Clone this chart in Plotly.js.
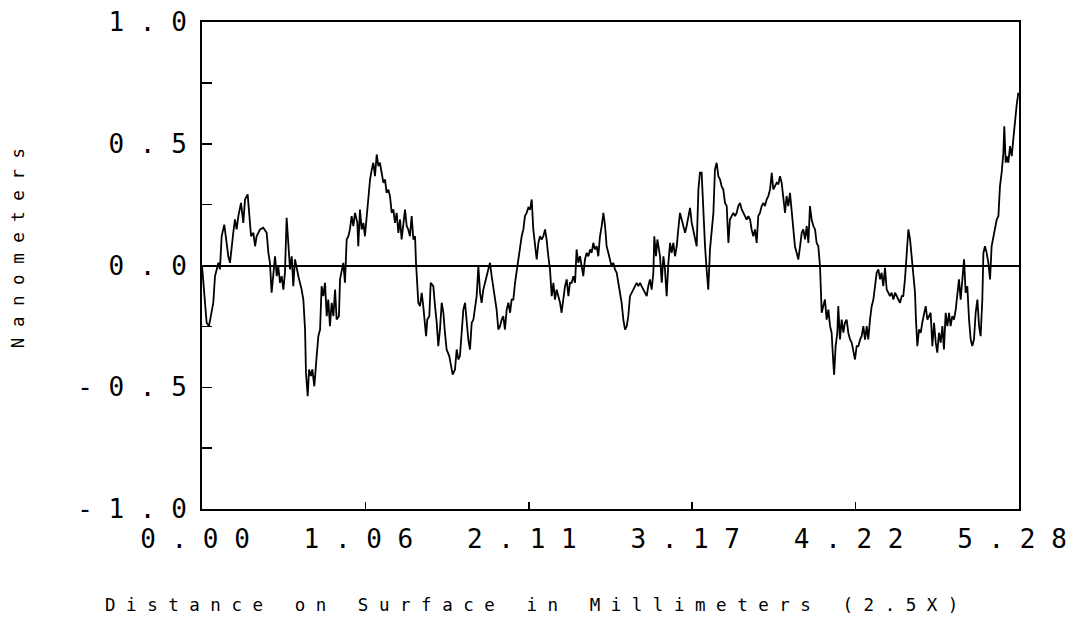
<!DOCTYPE html>
<html>
<head>
<meta charset="utf-8">
<script src="https://cdn.plot.ly/plotly-3.0.1.min.js"></script>
<style>html,body{margin:0;padding:0;background:#fff;}#chart{width:1073px;height:628px;}</style>
</head>
<body>
<div id="chart"></div>
<script>
// Surface profile: distance (mm) vs height (nm)
const distanceMm = [
0.000,0.015,0.030,0.045,0.058,0.073,0.084,0.095,0.106,0.116,0.127,0.144,0.157,0.170,0.181,0.192,0.202,0.213,0.224,0.235,
0.252,0.267,0.278,0.295,0.304,0.317,0.332,0.343,0.353,0.375,0.396,0.418,0.429,0.439,0.450,0.461,0.472,0.483,0.493,0.504,
0.515,0.526,0.536,0.547,0.558,0.569,0.580,0.590,0.601,0.612,0.623,0.633,0.644,0.655,0.666,0.672,0.683,0.692,0.704,0.713,
0.726,0.741,0.752,0.763,0.773,0.784,0.795,0.806,0.816,0.827,0.838,0.849,0.860,0.870,0.885,0.892,0.903,0.913,0.924,0.935,
0.946,0.956,0.967,0.978,0.989,1.004,1.010,1.021,1.032,1.043,1.053,1.064,1.075,1.086,1.097,1.107,1.118,1.129,1.140,1.150,
1.161,1.172,1.183,1.193,1.204,1.215,1.226,1.237,1.247,1.258,1.269,1.280,1.290,1.301,1.312,1.323,1.333,1.344,1.355,1.366,
1.377,1.383,1.392,1.398,1.409,1.420,1.430,1.441,1.448,1.456,1.469,1.478,1.495,1.506,1.517,1.527,1.538,1.549,1.560,1.570,
1.581,1.598,1.607,1.620,1.635,1.646,1.657,1.667,1.678,1.689,1.700,1.710,1.721,1.732,1.743,1.754,1.764,1.775,1.786,1.797,
1.807,1.818,1.829,1.840,1.850,1.861,1.872,1.883,1.894,1.904,1.915,1.926,1.937,1.947,1.958,1.969,1.980,1.991,2.001,2.012,
2.023,2.034,2.044,2.055,2.066,2.077,2.087,2.098,2.109,2.120,2.131,2.141,2.152,2.163,2.174,2.184,2.195,2.206,2.217,2.227,
2.238,2.249,2.260,2.271,2.281,2.292,2.303,2.314,2.324,2.335,2.346,2.357,2.368,2.378,2.389,2.400,2.411,2.421,2.432,2.443,
2.454,2.464,2.475,2.486,2.497,2.508,2.518,2.529,2.540,2.551,2.561,2.572,2.583,2.594,2.605,2.615,2.626,2.637,2.647,2.658,
2.669,2.680,2.691,2.701,2.712,2.723,2.734,2.745,2.755,2.766,2.777,2.788,2.798,2.809,2.820,2.831,2.841,2.852,2.863,2.874,
2.884,2.895,2.906,2.917,2.923,2.934,2.943,2.951,2.960,2.971,2.982,2.992,3.003,3.014,3.025,3.035,3.046,3.057,3.068,3.078,
3.089,3.100,3.111,3.122,3.132,3.143,3.154,3.165,3.175,3.186,3.197,3.208,3.218,3.229,3.240,3.251,3.261,3.272,3.283,3.294,
3.305,3.315,3.326,3.337,3.348,3.358,3.369,3.380,3.391,3.402,3.412,3.423,3.434,3.445,3.455,3.466,3.477,3.488,3.498,3.509,
3.520,3.531,3.542,3.552,3.563,3.574,3.585,3.595,3.606,3.617,3.628,3.638,3.649,3.660,3.671,3.682,3.692,3.703,3.714,3.725,
3.735,3.746,3.757,3.768,3.778,3.789,3.800,3.811,3.822,3.832,3.843,3.854,3.865,3.876,3.886,3.897,3.908,3.919,3.929,3.940,
3.951,3.962,3.972,3.983,3.994,3.998,4.005,4.015,4.026,4.037,4.048,4.059,4.069,4.080,4.085,4.095,4.106,4.112,4.123,4.134,
4.145,4.155,4.166,4.177,4.188,4.199,4.209,4.220,4.231,4.242,4.253,4.263,4.274,4.285,4.296,4.306,4.317,4.328,4.339,4.350,
4.360,4.371,4.382,4.392,4.403,4.414,4.425,4.436,4.446,4.457,4.468,4.479,4.489,4.500,4.511,4.522,4.532,4.543,4.554,4.565,
4.576,4.586,4.597,4.608,4.614,4.623,4.634,4.645,4.655,4.666,4.677,4.688,4.698,4.709,4.720,4.731,4.742,4.752,4.763,4.774,
4.785,4.795,4.806,4.817,4.828,4.838,4.849,4.860,4.871,4.881,4.892,4.903,4.914,4.925,4.935,4.946,4.957,4.968,4.978,4.989,
5.000,5.011,5.022,5.032,5.043,5.050,5.060,5.071,5.082,5.093,5.103,5.114,5.125,5.136,5.147,5.157,5.168,5.179,5.185,5.194,
5.200,5.211,5.222,5.233,5.243,5.254,5.265,5.276
];
const heightNm = [
0.00,-0.126,-0.235,-0.249,-0.208,-0.153,-0.044,-0.016,0.011,-0.016,0.120,0.168,0.093,0.038,0.011,0.093,0.134,0.189,0.148,0.203,
0.257,0.175,0.271,0.292,0.216,0.120,0.134,0.079,0.120,0.148,0.155,0.134,0.052,0.011,-0.112,-0.016,0.038,-0.044,-0.003,-0.071,
-0.044,-0.099,-0.030,0.196,0.079,-0.016,0.038,-0.085,0.025,-0.016,-0.044,-0.071,-0.099,-0.140,-0.263,-0.441,-0.537,-0.427,-0.454,-0.427,
-0.496,-0.372,-0.290,-0.263,-0.085,-0.126,-0.071,-0.208,-0.140,-0.249,-0.153,-0.208,-0.099,-0.222,-0.208,-0.057,-0.016,0.011,-0.071,0.107,
0.120,0.148,0.203,0.162,0.216,0.175,0.079,0.230,0.148,0.175,0.120,0.203,0.285,0.353,0.394,0.422,0.367,0.456,0.408,0.422,
0.381,0.340,0.353,0.298,0.312,0.285,0.216,0.230,0.175,0.216,0.134,0.189,0.107,0.175,0.230,0.162,0.148,0.120,0.203,0.107,
0.120,0.011,-0.071,-0.153,-0.167,-0.112,-0.167,-0.263,-0.290,-0.222,-0.208,-0.071,-0.085,-0.167,-0.235,-0.331,-0.263,-0.153,-0.194,-0.276,
-0.345,-0.372,-0.400,-0.448,-0.427,-0.345,-0.386,-0.372,-0.276,-0.181,-0.153,-0.222,-0.304,-0.345,-0.235,-0.222,-0.181,-0.126,-0.003,-0.112,
-0.153,-0.099,-0.071,-0.044,-0.016,0.011,-0.044,-0.085,-0.126,-0.181,-0.263,-0.249,-0.222,-0.208,-0.263,-0.181,-0.153,-0.194,-0.140,-0.140,
-0.071,-0.016,0.011,0.079,0.120,0.148,0.203,0.216,0.237,0.230,0.271,0.148,0.079,0.025,0.093,0.120,0.107,0.120,0.148,0.107,
0.038,-0.016,-0.126,-0.071,-0.140,-0.099,-0.126,-0.153,-0.194,-0.126,-0.085,-0.057,-0.126,-0.071,-0.071,-0.044,-0.071,0.066,0.011,0.038,
-0.003,-0.044,0.025,0.052,0.038,0.066,0.052,0.093,0.066,0.079,0.038,0.120,0.162,0.216,0.162,0.079,0.052,0.025,-0.003,0.011,
-0.016,-0.030,-0.071,-0.099,-0.153,-0.222,-0.263,-0.249,-0.208,-0.126,-0.112,-0.099,-0.085,-0.071,-0.085,-0.071,-0.085,-0.099,-0.112,-0.126,
-0.085,-0.057,-0.099,-0.030,0.120,0.038,0.107,0.066,0.038,-0.071,0.038,-0.016,-0.126,0.011,0.093,0.052,0.093,0.038,0.079,0.148,
0.216,0.189,0.162,0.134,0.162,0.203,0.237,0.175,0.148,0.120,0.079,0.312,0.381,0.381,0.216,0.079,-0.016,-0.099,0.066,0.148,
0.216,0.394,0.422,0.367,0.353,0.326,0.312,0.257,0.244,0.093,0.189,0.203,0.216,0.203,0.216,0.244,0.257,0.230,0.216,0.203,
0.189,0.203,0.189,0.148,0.120,0.148,0.093,0.203,0.216,0.244,0.257,0.244,0.271,0.285,0.312,0.381,0.312,0.326,0.340,0.333,
0.367,0.340,0.271,0.216,0.285,0.244,0.298,0.216,0.148,0.079,0.052,0.025,0.079,0.134,0.148,0.107,0.162,0.093,0.244,0.189,
0.162,0.148,0.093,0.079,-0.003,-0.126,-0.194,-0.167,-0.140,-0.222,-0.181,-0.249,-0.276,-0.400,-0.448,-0.331,-0.276,-0.167,-0.304,-0.222,
-0.276,-0.235,-0.222,-0.276,-0.304,-0.317,-0.345,-0.386,-0.331,-0.331,-0.304,-0.290,-0.249,-0.304,-0.249,-0.304,-0.222,-0.167,-0.140,-0.085,
-0.030,-0.016,-0.057,-0.030,-0.085,-0.010,-0.099,-0.112,-0.126,-0.112,-0.140,-0.112,-0.126,-0.140,-0.153,-0.126,-0.126,-0.057,0.052,0.148,
0.107,0.038,-0.030,-0.112,-0.222,-0.331,-0.263,-0.276,-0.235,-0.194,-0.167,-0.222,-0.208,-0.194,-0.331,-0.235,-0.317,-0.358,-0.276,-0.317,
-0.249,-0.345,-0.194,-0.249,-0.194,-0.249,-0.208,-0.222,-0.181,-0.112,-0.057,-0.140,-0.057,0.025,-0.112,-0.085,-0.222,-0.304,-0.331,-0.304,
-0.194,-0.140,-0.249,-0.290,-0.140,0.052,0.079,0.052,0.011,-0.057,0.079,0.120,0.162,0.189,0.203,0.326,0.381,0.463,0.572,0.422,
0.449,0.422,0.490,0.449,0.517,0.600,0.660,0.710
];
const xTickVals = [0, 1.056, 2.112, 3.168, 4.224, 5.28];
const xTickText = ['0 . 0 0', '1 . 0 6', '2 . 1 1', '3 . 1 7', '4 . 2 2', '5 . 2 8'];
const yTickVals = [-1, -0.75, -0.5, -0.25, 0, 0.25, 0.5, 0.75, 1];
const yTickText = ['- 1 . 0', '', '- 0 . 5', '', '0 . 0', '', '0 . 5', '', '1 . 0'];
const xTitle = 'D i s t a n c e   o n   S u r f a c e   i n   M i l l i m e t e r s   ( 2 . 5 X )';
const yTitle = 'N a n o m e t e r s';

const mono = 'DejaVu Sans Mono, Liberation Mono, monospace';

Plotly.newPlot('chart', [{
  x: distanceMm,
  y: heightNm,
  type: 'scatter',
  mode: 'lines',
  line: {color: '#000', width: 1.8},
  hoverinfo: 'skip',
  showlegend: false
}], {
  width: 1073,
  height: 628,
  margin: {l: 202, r: 54, t: 22, b: 119, pad: 0},
  paper_bgcolor: '#fff',
  plot_bgcolor: '#fff',
  font: {family: mono, color: '#000'},
  xaxis: {
    range: [0, 5.28],
    tickvals: xTickVals,
    ticktext: xTickText,
    ticks: 'inside',
    ticklen: 7,
    tickwidth: 1.5,
    tickcolor: '#000',
    showgrid: false,
    zeroline: false,
    showline: true,
    mirror: true,
    linecolor: '#000',
    linewidth: 2,
    tickfont: {family: mono, size: 26, color: '#000'},
    ticklabelstandoff: 6,
    ticklabelshift: -7,
    ticklabeloverflow: 'allow'
  },
  yaxis: {
    range: [-1, 1],
    tickvals: yTickVals,
    ticktext: yTickText,
    ticks: 'inside',
    ticklen: 10,
    tickwidth: 1.5,
    tickcolor: '#000',
    showgrid: false,
    zeroline: true,
    zerolinecolor: '#000',
    zerolinewidth: 2,
    showline: true,
    mirror: true,
    linecolor: '#000',
    linewidth: 2,
    tickfont: {family: mono, size: 26, color: '#000'},
    ticklabelstandoff: 8,
    ticklabeloverflow: 'allow'
  },
  annotations: [
    {text: xTitle, xref: 'paper', yref: 'paper', x: 0.4027, y: -0.197, showarrow: false,
     xanchor: 'center', yanchor: 'middle', font: {family: mono, size: 17.5, color: '#000'}},
    {text: yTitle, xref: 'paper', yref: 'paper', x: -0.225, y: 0.536, showarrow: false, textangle: -90,
     xanchor: 'center', yanchor: 'middle', font: {family: mono, size: 17.5, color: '#000'}}
  ]
}, {displayModeBar: false, staticPlot: true});
</script>
</body>
</html>
